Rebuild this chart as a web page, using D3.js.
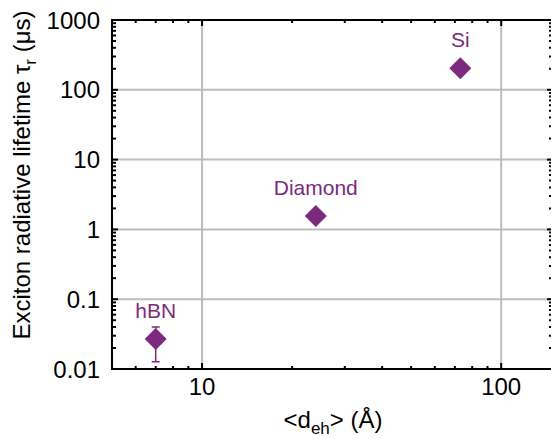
<!DOCTYPE html>
<html>
<head>
<meta charset="utf-8">
<script src="https://cdn.jsdelivr.net/npm/d3@7/dist/d3.min.js"></script>
<style>
  body { margin: 0; background: #fff; }
  svg { display: block; font-family: "Liberation Sans", Arial, sans-serif; }
</style>
</head>
<body>
<div id="chart"></div>
<script>
const width = 551;
const height = 439;

// data
const materials = ["hBN", "Diamond", "Si"];
const distance = [7.0, 24, 73];          // <d_eh> in Å
const lifetime = [0.027, 1.55, 204];     // τr in µs
const errLow = [0.0127, null, null];
const errHigh = [0.040, null, null];

const xTickValues = [10, 100];
const yTickValues = [0.01, 0.1, 1, 10, 100, 1000];
const yTickLabels = ["0.01", "0.1", "1", "10", "100", "1000"];

const purple = "#7c2a80";
// right edge sits just past the window, so only the inward ticks show there
const plot = { left: 112, right: 553, top: 20, bottom: 369 };

const x = d3.scaleLog().domain([5, 149]).range([plot.left, plot.right]);
const y = d3.scaleLog().domain([0.01, 1000]).range([plot.bottom, plot.top]);

const svg = d3.select("#chart").append("svg")
  .attr("width", width)
  .attr("height", height);

// grid
const grid = svg.append("g").attr("stroke", "#bdbdbd").attr("stroke-width", 2);
grid.selectAll(".gx").data(xTickValues).enter().append("line")
  .attr("x1", d => x(d)).attr("x2", d => x(d))
  .attr("y1", plot.top).attr("y2", plot.bottom);
grid.selectAll(".gy").data(yTickValues.slice(1, -1)).enter().append("line")
  .attr("x1", plot.left).attr("x2", plot.right)
  .attr("y1", d => y(d)).attr("y2", d => y(d));

// minor + major ticks on all four sides, pointing inward
const xMinor = x.ticks().filter(d => !xTickValues.includes(d));
const yMinor = y.ticks().filter(d => !yTickValues.includes(+d.toPrecision(6)));

const ticks = svg.append("g").attr("stroke", "#000").attr("stroke-width", 2);
function sideTicks(vals, len) {
  vals.forEach(v => {
    const px = x(v);
    ticks.append("line").attr("x1", px).attr("x2", px).attr("y1", plot.bottom).attr("y2", plot.bottom - len);
    ticks.append("line").attr("x1", px).attr("x2", px).attr("y1", plot.top).attr("y2", plot.top + len);
  });
}
sideTicks(xMinor, 3);
sideTicks(xTickValues, 6);
function sideTicksY(vals, len) {
  vals.forEach(v => {
    const py = y(v);
    ticks.append("line").attr("x1", plot.left).attr("x2", plot.left + len).attr("y1", py).attr("y2", py);
    ticks.append("line").attr("x1", plot.right).attr("x2", plot.right - len).attr("y1", py).attr("y2", py);
  });
}
sideTicksY(yMinor, 4);
sideTicksY(yTickValues, 6);

// frame
svg.append("rect")
  .attr("x", plot.left).attr("y", plot.top)
  .attr("width", plot.right - plot.left).attr("height", plot.bottom - plot.top)
  .attr("fill", "none").attr("stroke", "#000").attr("stroke-width", 2);

// tick labels
svg.append("g").selectAll("text").data(yTickValues).enter().append("text")
  .attr("x", 100).attr("y", d => y(d) + 8.5)
  .attr("text-anchor", "end").attr("font-size", 24)
  .text((d, i) => yTickLabels[i]);
svg.append("g").selectAll("text").data(xTickValues).enter().append("text")
  .attr("x", d => x(d)).attr("y", 395)
  .attr("text-anchor", "middle").attr("font-size", 24)
  .text(d => d);

// axis titles
const xt = svg.append("text")
  .attr("x", 333).attr("y", 428)
  .attr("text-anchor", "middle").attr("font-size", 24);
xt.append("tspan").text("<d");
xt.append("tspan").attr("font-size", 17).attr("dy", 6).text("eh");
xt.append("tspan").attr("dy", -6).text("> (Å)");

const yt = svg.append("text")
  .attr("transform", "translate(30,175) rotate(-90)")
  .attr("text-anchor", "middle").attr("font-size", 24);
yt.append("tspan").text("Exciton radiative lifetime τ");
yt.append("tspan").attr("font-size", 17).attr("dy", 6).text("r");
yt.append("tspan").attr("dy", -6).text(" (μs)");

// error bars
const idx = d3.range(materials.length);
const eb = svg.append("g").attr("stroke", purple).attr("stroke-width", 1.5);
idx.filter(i => errLow[i] != null).forEach(i => {
  const cx = x(distance[i]);
  eb.append("line").attr("x1", cx).attr("x2", cx).attr("y1", y(errLow[i])).attr("y2", y(errHigh[i]));
  eb.append("line").attr("x1", cx - 4).attr("x2", cx + 4).attr("y1", y(errLow[i])).attr("y2", y(errLow[i]));
  eb.append("line").attr("x1", cx - 4).attr("x2", cx + 4).attr("y1", y(errHigh[i])).attr("y2", y(errHigh[i]));
});

// markers
svg.append("g").selectAll("path").data(idx).enter().append("path")
  .attr("transform", i => `translate(${x(distance[i])},${y(lifetime[i])})`)
  .attr("d", "M0,-11L11,0L0,11L-11,0Z")
  .attr("fill", purple);

// point labels
svg.append("g").selectAll("text").data(idx).enter().append("text")
  .attr("x", i => x(distance[i]))
  .attr("y", i => y(lifetime[i]) - 21)
  .attr("text-anchor", "middle").attr("font-size", 21)
  .attr("fill", purple)
  .text(i => materials[i]);
</script>
</body>
</html>
